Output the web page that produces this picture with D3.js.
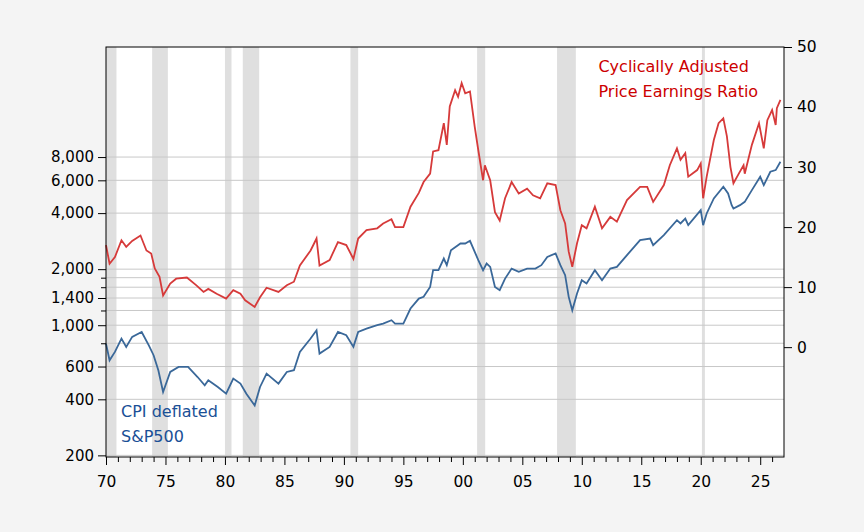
<!DOCTYPE html>
<html>
<head>
<meta charset="utf-8">
<script src="https://cdn.jsdelivr.net/npm/d3@7"></script>
<style>
  body { margin: 0; background: #f4f4f4; }
  text { font-family: "DejaVu Sans", Verdana, sans-serif; }
</style>
</head>
<body>
<div id="chart"></div>
<script>
// CAPE (right axis)
var capeYears = [1970.0,1970.3,1970.75,1971.3,1971.7,1972.2,1972.9,1973.4,1973.8,1974.1,1974.5,1974.8,1975.4,1975.9,1976.8,1977.6,1978.2,1978.6,1979.3,1980.1,1980.7,1981.3,1981.7,1982.5,1982.95,1983.5,1984.5,1985.2,1985.8,1986.3,1987.2,1987.7,1987.95,1988.8,1989.5,1990.2,1990.8,1991.2,1991.9,1992.8,1993.3,1994.0,1994.3,1995.0,1995.6,1996.3,1996.7,1997.25,1997.5,1997.95,1998.4,1998.65,1998.9,1999.35,1999.6,1999.9,2000.2,2000.6,2001.0,2001.3,2001.7,2001.85,2002.3,2002.7,2003.1,2003.55,2004.1,2004.7,2005.4,2005.9,2006.5,2007.1,2007.8,2008.2,2008.6,2008.9,2009.2,2009.6,2010.0,2010.4,2011.1,2011.7,2012.4,2012.95,2013.8,2014.9,2015.5,2016.0,2016.9,2017.4,2018.0,2018.3,2018.7,2018.95,2019.7,2020.0,2020.2,2020.5,2021.1,2021.5,2021.9,2022.2,2022.5,2022.75,2023.2,2023.6,2023.7,2024.3,2024.9,2025.3,2025.6,2026.0,2026.3,2026.4,2026.7];
var capeValues = [17.0,13.9,15.0,17.8,16.7,17.7,18.6,16.1,15.6,13.1,11.7,8.6,10.6,11.4,11.6,10.3,9.2,9.7,8.9,8.1,9.5,8.9,7.8,6.7,8.3,9.9,9.2,10.3,10.9,13.6,16.1,18.1,13.6,14.5,17.5,17.0,14.7,18.1,19.5,19.8,20.6,21.3,20.0,20.0,23.4,25.7,27.5,28.9,32.6,32.8,37.3,33.7,40.1,42.8,41.7,44.0,42.3,42.6,36.7,32.8,27.8,30.3,27.8,22.5,21.1,24.8,27.5,25.6,26.4,25.3,24.8,27.3,27.0,22.8,20.6,15.9,13.4,17.3,20.3,19.8,23.4,19.8,21.7,20.9,24.5,26.7,26.7,24.2,27.0,30.3,33.1,31.2,32.3,28.4,29.5,30.6,24.8,28.4,34.5,37.3,38.1,35.1,30.0,27.3,28.9,30.3,28.9,33.7,37.3,33.1,37.8,39.5,37.0,39.8,41.2];

// CPI deflated S&P500 (left log axis)
var spYears = [1970.0,1970.3,1970.75,1971.3,1971.7,1972.2,1973.0,1973.6,1974.0,1974.4,1974.8,1975.4,1976.1,1976.9,1977.7,1978.3,1978.6,1979.4,1980.1,1980.7,1981.3,1981.8,1982.5,1982.95,1983.5,1984.5,1985.2,1985.8,1986.3,1987.2,1987.7,1987.95,1988.8,1989.5,1990.2,1990.8,1991.2,1991.9,1992.8,1993.3,1994.0,1994.3,1995.0,1995.6,1996.3,1996.7,1997.25,1997.5,1997.95,1998.4,1998.65,1999.0,1999.8,2000.2,2000.6,2001.0,2001.3,2001.7,2002.0,2002.3,2002.7,2003.1,2003.55,2004.1,2004.7,2005.4,2006.1,2006.6,2007.1,2007.8,2008.2,2008.6,2008.9,2009.2,2009.6,2010.0,2010.4,2011.1,2011.7,2012.4,2012.95,2013.8,2014.9,2015.75,2016.0,2016.9,2018.0,2018.3,2018.7,2018.95,2020.0,2020.2,2020.5,2021.1,2021.9,2022.3,2022.6,2022.75,2023.3,2023.7,2024.3,2025.0,2025.3,2025.85,2026.3,2026.7];
var spValues = [797,648,719,848,765,866,920,780,690,573,438,561,597,597,527,476,506,466,429,517,486,429,371,466,550,486,561,573,719,848,939,704,765,920,883,765,920,959,1000,1021,1064,1021,1021,1229,1390,1420,1606,1975,1975,2281,2101,2528,2747,2747,2839,2478,2234,1975,2144,2058,1606,1541,1780,2015,1934,2015,2015,2101,2328,2427,2101,1856,1420,1203,1479,1745,1675,1975,1745,2015,2058,2377,2862,2921,2690,3046,3664,3518,3741,3448,4148,3448,3982,4795,5538,5098,4413,4236,4413,4598,5315,6268,5657,6670,6808,7543];

// NBER recessions
var recStart = [1969.92,1973.88,1980.0,1981.5,1990.55,2001.2,2007.92,2020.1];
var recEnd   = [1970.88,1975.2,1980.55,1982.88,1991.2,2001.88,2009.5,2020.35];

var leftTicks = [200,400,600,800,1000,1200,1400,1600,1800,2000,4000,6000,8000];
var leftLabels = [200,400,600,1000,1400,2000,4000,6000,8000];
var rightTicks = [0,10,20,30,40,50];
var xLabelYears = [1970,1975,1980,1985,1990,1995,2000,2005,2010,2015,2020,2025];

var svgWidth = 864, svgHeight = 532;
var margin = {top: 47, right: 80, bottom: 75, left: 106};
var width = svgWidth - margin.left - margin.right;
var height = svgHeight - margin.top - margin.bottom;

var svg = d3.select("#chart").append("svg")
  .attr("width", svgWidth)
  .attr("height", svgHeight);

var g = svg.append("g")
  .attr("transform", `translate(${margin.left}, ${margin.top})`);

var x = d3.scaleLinear().domain([1970, 2027.0]).range([0, width]);
var yLeft = d3.scaleLog().domain([196, 31200]).range([height, 0]);
var yRight = d3.scaleLinear().domain([-18.3, 50]).range([height, 0]);

g.append("rect").attr("width", width).attr("height", height).attr("fill", "white");

// recession shading
g.selectAll(".rec")
  .data(recStart)
  .enter()
  .append("rect")
  .attr("x", (d, i) => x(Math.max(d, 1970)))
  .attr("width", (d, i) => x(recEnd[i]) - x(Math.max(d, 1970)))
  .attr("y", 0)
  .attr("height", height)
  .attr("fill", "#dfdfdf");

// grid lines
g.selectAll(".grid")
  .data(leftTicks)
  .enter()
  .append("line")
  .attr("x1", 0).attr("x2", width)
  .attr("y1", d => yLeft(d)).attr("y2", d => yLeft(d))
  .attr("stroke", "#c8c8c8").attr("stroke-width", 1);

// lines
var spLine = d3.line().x((d, i) => x(spYears[i])).y(d => yLeft(d));
var capeLine = d3.line().x((d, i) => x(capeYears[i])).y(d => yRight(d));

g.append("path").datum(spValues).attr("d", spLine)
  .attr("fill", "none").attr("stroke", "#3a6899").attr("stroke-width", 1.8);
g.append("path").datum(capeValues).attr("d", capeLine)
  .attr("fill", "none").attr("stroke", "#d63a3a").attr("stroke-width", 1.8);

// frame
g.append("rect").attr("width", width).attr("height", height)
  .attr("fill", "none").attr("stroke", "black").attr("stroke-width", 1);

// x axis
var xAxis = d3.axisBottom(x)
  .tickValues(d3.range(1970, 2027))
  .tickSize(6)
  .tickFormat(d => xLabelYears.includes(d) ? d3.format("02d")(d % 100) : "");
var xg = g.append("g").attr("transform", `translate(0, ${height})`).call(xAxis);
xg.select(".domain").remove();
xg.selectAll(".tick line").attr("y2", d => xLabelYears.includes(d) ? 8 : 5);
xg.selectAll("text").attr("font-size", 15.5).attr("dy", "1.35em").attr("fill", "black");

// left axis
var leftAxis = d3.axisLeft(yLeft)
  .tickValues(leftTicks)
  .tickSize(6)
  .tickFormat(d => leftLabels.includes(d) ? d3.format(",")(d) : "");
var lg = g.append("g").call(leftAxis);
lg.select(".domain").remove();
lg.selectAll(".tick line").attr("x2", d => leftLabels.includes(d) ? -8 : -5);
lg.selectAll("text").attr("font-size", 15).attr("x", -12).attr("fill", "black");

// right axis
var rightAxis = d3.axisRight(yRight).tickValues(rightTicks).tickSize(8);
var rg = g.append("g").attr("transform", `translate(${width}, 0)`).call(rightAxis);
rg.select(".domain").remove();
rg.selectAll("text").attr("font-size", 15.5).attr("x", 13).attr("fill", "black");

// labels
g.append("text").attr("x", x(2011.4)).attr("y", 25)
  .attr("font-size", 16).attr("fill", "#cc0000").text("Cyclically Adjusted");
g.append("text").attr("x", x(2011.4)).attr("y", 50)
  .attr("font-size", 16).attr("fill", "#cc0000").text("Price Earnings Ratio");
g.append("text").attr("x", 15).attr("y", 370)
  .attr("font-size", 16).attr("fill", "#1a4f96").text("CPI deflated");
g.append("text").attr("x", 15).attr("y", 395)
  .attr("font-size", 16).attr("fill", "#1a4f96").text("S&P500");
</script>
</body>
</html>
